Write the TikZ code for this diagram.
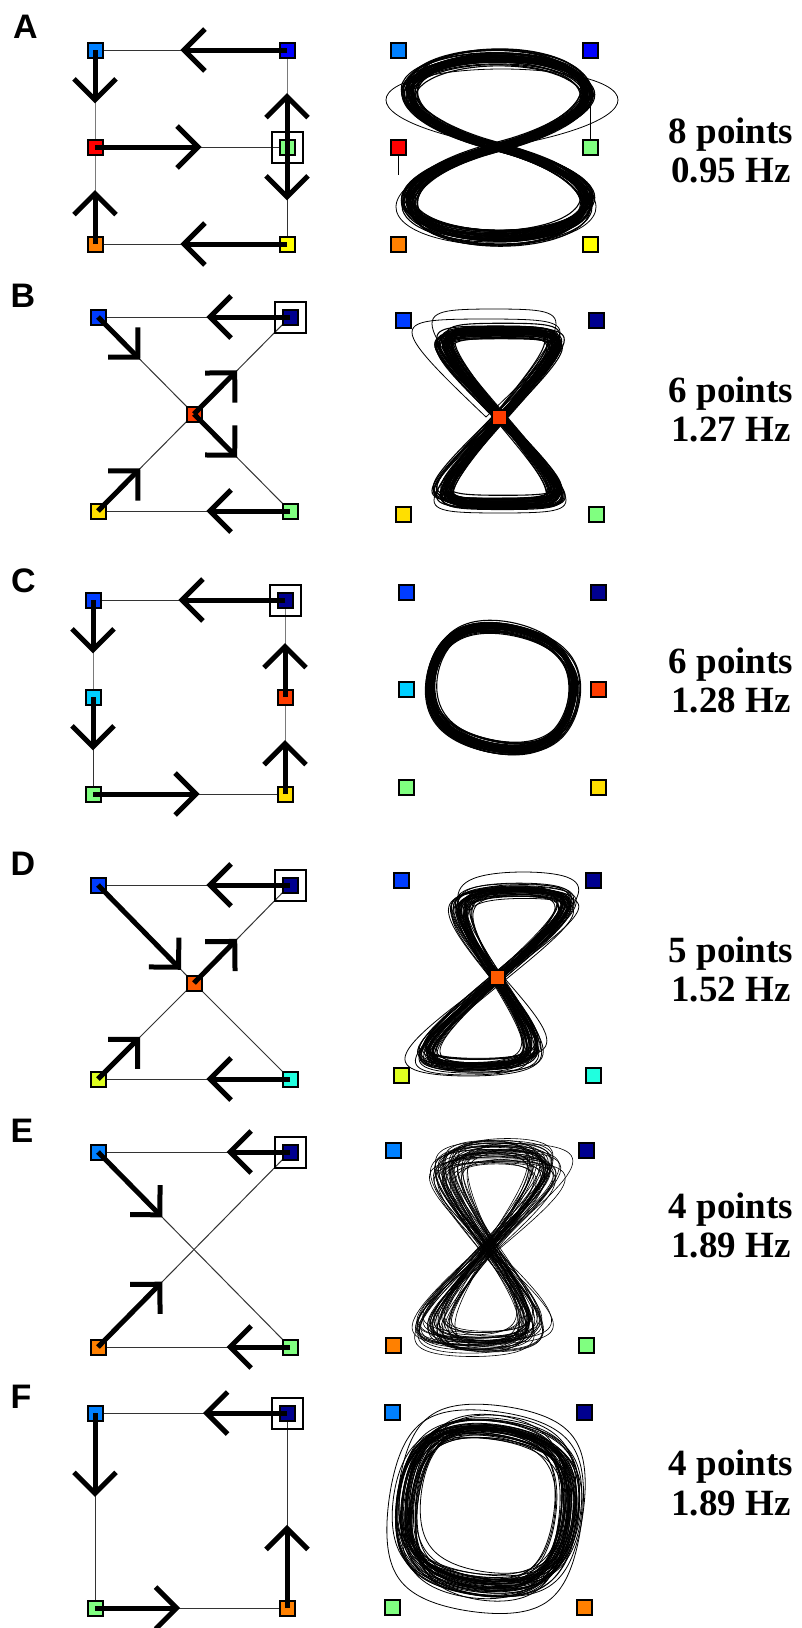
\documentclass[tikz,border=0pt]{standalone}
\usepackage{fontspec}
\newfontfamily\lblfont{Liberation Sans}
\newfontfamily\infofont{Liberation Serif}
\usetikzlibrary{arrows.meta,calc}
\pgfdeclarelayer{bg}
\pgfsetlayers{bg,main}

\definecolor{cAzure}{RGB}{0,128,255}
\definecolor{cBlue}{RGB}{0,0,255}
\definecolor{cBlueB}{RGB}{0,60,255}
\definecolor{cNavy}{RGB}{0,0,143}
\definecolor{cRed}{RGB}{255,0,0}
\definecolor{cRedOr}{RGB}{255,60,0}
\definecolor{cOrD}{RGB}{255,90,0}
\definecolor{cLGreen}{RGB}{128,255,128}
\definecolor{cOrange}{RGB}{255,128,0}
\definecolor{cYellow}{RGB}{255,255,0}
\definecolor{cGold}{RGB}{255,223,0}
\definecolor{cCyan}{RGB}{0,207,255}
\definecolor{cYG}{RGB}{223,255,32}
\definecolor{cCyD}{RGB}{32,255,223}

\tikzset{
  sq/.style={draw=black, line width=2pt, minimum size=15pt, inner sep=0pt, fill=#1},
  startbox/.style={draw=black, line width=2pt, minimum size=31pt, inner sep=0pt},
  lnk/.style={draw=black!80, line width=1pt},
  flowarrow/.style={line width=5pt, -{Straight Barb[length=21pt, width=42pt, line width=5pt]}},
  traj/.style={line width=0.8pt},
  trajbold/.style={line width=1.1pt},
  panel/.style={font=\lblfont\bfseries\fontsize{34}{34}\selectfont, anchor=base west, inner sep=0pt},
  info/.style={font=\infofont\bfseries\fontsize{37}{37}\selectfont, anchor=base, inner sep=0pt},
}

% figure-eight bundle with shear: cx cy a b k shear shearspread spreadAB spreadXY ; count via \trN
\newcommand\trN{40}
\newcommand\eightloop[9]{%
  \foreach \i in {1,...,\trN}{%
    \pgfmathsetmacro\trA{#3+#8*rand}%
    \pgfmathsetmacro\trB{(#4+0.7*#8*rand)/(1-#5)}%
    \pgfmathsetmacro\trX{#1+#9*rand}%
    \pgfmathsetmacro\trY{#2+0.7*#9*rand}%
    \pgfmathsetmacro\trS{#6+#7*rand}%
    \draw[traj] plot[domain=0:360,samples=61,smooth,variable=\t]
      ({\trX+\trA*sin(2*\t)+\trS*\trB*(sin(\t)+#5*sin(3*\t))},
       {\trY-\trB*(sin(\t)+#5*sin(3*\t))});
  }}
% figure-eight with round lobes: cx cy a b c spreadAB spreadXY
\newcommand\flateight[7]{%
  \foreach \i in {1,...,\trN}{%
    \pgfmathsetmacro\trA{#3+#6*rand}%
    \pgfmathsetmacro\trB{#4+#6*rand}%
    \pgfmathsetmacro\trX{#1+#7*rand}%
    \pgfmathsetmacro\trY{#2+#7*rand}%
    \draw[traj] plot[domain=0:360,samples=61,smooth,variable=\t]
      ({\trX+\trA*sin(2*\t)},
       {\trY-\trB*(#5*sin(\t)+(1-#5)*sin(\t)*abs(sin(\t)))});
  }}
% rounded loop bundle: cx cy a b c spreadAB spreadXY
\newcommand\roundloop[7]{%
  \foreach \i in {1,...,\trN}{%
    \pgfmathsetmacro\trA{#3+#6*rand}%
    \pgfmathsetmacro\trB{#4+#6*rand}%
    \pgfmathsetmacro\trX{#1+#7*rand}%
    \pgfmathsetmacro\trY{#2+#7*rand}%
    \draw[traj] plot[domain=0:360,samples=61,smooth,variable=\t]
      ({\trX+\trA*(cos(\t)-#5*cos(3*\t))},
       {\trY+\trB*(sin(\t)+#5*sin(3*\t))});
  }}

\begin{document}
\begin{tikzpicture}[x=1pt,y=-1pt]
\begin{pgfonlayer}{bg}
\fill[white] (0,0) rectangle (801,1628);
\end{pgfonlayer}
\useasboundingbox (0,0) rectangle (801,1628);
\pgfmathsetseed{4242}

% ================= A =================
\node[panel] (aL) at (13,38) {A};
\node[sq=cAzure]  (aTL) at (95,50) {};
\node[sq=cBlue]   (aTR) at (287,50) {};
\node[sq=cRed]    (aML) at (95,147) {};
\node[sq=cLGreen] (aMR) at (287,147) {};
\node[sq=cOrange] (aBL) at (95,244) {};
\node[sq=cYellow] (aBR) at (287,244) {};
\node[startbox] (aS) at (aMR) {};
\begin{pgfonlayer}{bg}
\draw[lnk] (aTL.center) -- (aTR.center);
\draw[lnk] (aTL.center) -- (aML.center) -- (aBL.center);
\draw[lnk] (aTR.center) -- (aMR.center) -- (aBR.center);
\draw[lnk] (aML.center) -- (aMR.center);
\draw[lnk] (aBL.center) -- (aBR.center);
\end{pgfonlayer}
\draw[flowarrow] (aTR.center) -- ($(aTR)!0.555!(aTL)$);
\draw[flowarrow] (aTL.center) -- ($(aTL)!0.55!(aML)$);
\draw[flowarrow] (aML.center) -- ($(aML)!0.555!(aMR)$);
\draw[flowarrow] (aMR.center) -- ($(aMR)!0.555!(aTR)$);
\draw[flowarrow] (aMR.center) -- ($(aMR)!0.55!(aBR)$);
\draw[flowarrow] (aBL.center) -- ($(aBL)!0.555!(aML)$);
\draw[flowarrow] (aBR.center) -- ($(aBR)!0.555!(aBL)$);

\renewcommand\trN{45}
\begin{scope}[traj/.style=trajbold]
\flateight{498}{147}{89}{90}{0.5}{5.5}{4.5}
\end{scope}
\draw[traj] plot[domain=0:180,samples=61,smooth,variable=\t]
  ({502+116*sin(2*\t)},{147-78*(0.5*sin(\t)+0.5*sin(\t)*abs(sin(\t)))});
\draw[traj] plot[domain=180:360,samples=61,smooth,variable=\t]
  ({496+100*sin(2*\t)},{149-96*(0.5*sin(\t)+0.5*sin(\t)*abs(sin(\t)))});
\node[sq=cAzure]  (raTL) at (398,50) {};
\node[sq=cBlue]   (raTR) at (590,50) {};
\node[sq=cRed]    (raML) at (398,147) {};
\node[sq=cLGreen] (raMR) at (590,147) {};
\node[sq=cOrange] (raBL) at (398,244) {};
\node[sq=cYellow] (raBR) at (590,244) {};
\coordinate (aStubU) at (590,90);
\coordinate (aStubD) at (398,175);
\begin{pgfonlayer}{bg}
\draw[traj] (raMR.center) -- (aStubU);
\draw[traj] (raML.center) -- (aStubD);
\end{pgfonlayer}
\node[info] (aT1) at (731,143) {8 points};
\node[info] (aT2) at (731,182) {0.95 Hz};

% ================= B =================
\node[panel] (bL) at (10.5,307) {B};
\node[sq=cBlueB]  (bTL) at (98,317) {};
\node[sq=cNavy]   (bTR) at (290,317) {};
\node[sq=cRedOr]  (bC)  at (194,414) {};
\node[sq=cGold]   (bBL) at (98,511) {};
\node[sq=cLGreen] (bBR) at (290,511) {};
\node[startbox] (bS) at (bTR) {};
\begin{pgfonlayer}{bg}
\draw[lnk] (bTL.center) -- (bTR.center);
\draw[lnk] (bBL.center) -- (bBR.center);
\draw[lnk] (bTL.center) -- (bC.center) -- (bBR.center);
\draw[lnk] (bBL.center) -- (bC.center) -- (bTR.center);
\end{pgfonlayer}
\draw[flowarrow] (bTR.center) -- ($(bTR)!0.435!(bTL)$);
\draw[flowarrow] (bTL.center) -- ($(bTL)!0.44!(bC)$);
\draw[flowarrow] (bC.center) -- ($(bC)!0.45!(bTR)$);
\draw[flowarrow] (bC.center) -- ($(bC)!0.45!(bBR)$);
\draw[flowarrow] (bBL.center) -- ($(bBL)!0.44!(bC)$);
\draw[flowarrow] (bBR.center) -- ($(bBR)!0.435!(bBL)$);

\renewcommand\trN{45}
\begin{scope}[traj/.style=trajbold]
\eightloop{500}{417}{56}{86}{0.1}{0}{0.03}{6.5}{5.5}
\end{scope}
\draw[traj] plot[domain=0:180,samples=61,smooth,variable=\t]
  ({486+74*sin(2*\t)},{417-98*(sin(\t)+0.1*sin(3*\t))/0.9});
\draw[traj] plot[domain=0:180,samples=61,smooth,variable=\t]
  ({494+62*sin(2*\t)},{417-108*(sin(\t)+0.1*sin(3*\t))/0.9});
\draw[traj] plot[domain=180:360,samples=61,smooth,variable=\t]
  ({500+66*sin(2*\t)},{419-94*(sin(\t)+0.1*sin(3*\t))/0.9});
\node[sq=cBlueB]  (rbTL) at (403,320) {};
\node[sq=cNavy]   (rbTR) at (596,320) {};
\node[sq=cRedOr]  (rbC)  at (499,417) {};
\node[sq=cGold]   (rbBL) at (403,514) {};
\node[sq=cLGreen] (rbBR) at (596,514) {};
\node[info] (bT1) at (731,402) {6 points};
\node[info] (bT2) at (731,441) {1.27 Hz};

% ================= C =================
\node[panel] (cL) at (11,592) {C};
\node[sq=cBlueB]  (cTL) at (93,600) {};
\node[sq=cNavy]   (cTR) at (285,600) {};
\node[sq=cCyan]   (cML) at (93,697) {};
\node[sq=cRedOr]  (cMR) at (285,697) {};
\node[sq=cLGreen] (cBL) at (93,794) {};
\node[sq=cGold]   (cBR) at (285,794) {};
\node[startbox] (cS) at (cTR) {};
\begin{pgfonlayer}{bg}
\draw[lnk] (cTL.center) -- (cTR.center);
\draw[lnk] (cTL.center) -- (cML.center) -- (cBL.center);
\draw[lnk] (cTR.center) -- (cMR.center) -- (cBR.center);
\draw[lnk] (cBL.center) -- (cBR.center);
\end{pgfonlayer}
\draw[flowarrow] (cTR.center) -- ($(cTR)!0.555!(cTL)$);
\draw[flowarrow] (cTL.center) -- ($(cTL)!0.55!(cML)$);
\draw[flowarrow] (cML.center) -- ($(cML)!0.55!(cBL)$);
\draw[flowarrow] (cBL.center) -- ($(cBL)!0.555!(cBR)$);
\draw[flowarrow] (cBR.center) -- ($(cBR)!0.555!(cMR)$);
\draw[flowarrow] (cMR.center) -- ($(cMR)!0.555!(cTR)$);

\renewcommand\trN{40}
\begin{scope}[rotate around={-12:(502,688)}, traj/.style=trajbold]
\roundloop{502}{688}{74}{61}{0.025}{4.5}{3}
\end{scope}
\node[sq=cBlueB]  (rcTL) at (406,592) {};
\node[sq=cNavy]   (rcTR) at (598,592) {};
\node[sq=cCyan]   (rcML) at (406,689) {};
\node[sq=cRedOr]  (rcMR) at (598,689) {};
\node[sq=cLGreen] (rcBL) at (406,787) {};
\node[sq=cGold]   (rcBR) at (598,787) {};
\node[info] (cT1) at (731,673) {6 points};
\node[info] (cT2) at (731,712) {1.28 Hz};

% ================= D =================
\node[panel] (dL) at (10.5,875) {D};
\node[sq=cBlueB]  (dTL) at (98,885) {};
\node[sq=cNavy]   (dTR) at (290,885) {};
\node[sq=cOrD]    (dC)  at (194,983) {};
\node[sq=cYG]     (dBL) at (98,1079) {};
\node[sq=cCyD]    (dBR) at (290,1079) {};
\node[startbox] (dS) at (dTR) {};
\begin{pgfonlayer}{bg}
\draw[lnk] (dTL.center) -- (dTR.center);
\draw[lnk] (dBL.center) -- (dBR.center);
\draw[lnk] (dTL.center) -- (dC.center) -- (dBR.center);
\draw[lnk] (dBL.center) -- (dC.center) -- (dTR.center);
\end{pgfonlayer}
\draw[flowarrow] (dTR.center) -- ($(dTR)!0.435!(dTL)$);
\draw[flowarrow] (dTL.center) -- ($(dTL)!0.865!(dC)$);
\draw[flowarrow] (dC.center) -- ($(dC)!0.45!(dTR)$);
\draw[flowarrow] (dBL.center) -- ($(dBL)!0.44!(dC)$);
\draw[flowarrow] (dBR.center) -- ($(dBR)!0.435!(dBL)$);

\renewcommand\trN{45}
\eightloop{497}{978}{53}{88}{0.07}{0.24}{0.05}{7.5}{6}
\draw[traj] plot[domain=0:180,samples=61,smooth,variable=\t]
  ({498+60*sin(2*\t)+0.24*106*(sin(\t)+0.06*sin(3*\t))/0.94},{978-106*(sin(\t)+0.06*sin(3*\t))/0.94});
\draw[traj] plot[domain=180:360,samples=61,smooth,variable=\t]
  ({492+68*sin(2*\t)+0.24*98*(sin(\t)+0.06*sin(3*\t))/0.94},{978-98*(sin(\t)+0.06*sin(3*\t))/0.94});
\node[sq=cBlueB]  (rdTL) at (401,880) {};
\node[sq=cNavy]   (rdTR) at (593,880) {};
\node[sq=cOrD]    (rdC)  at (497,977) {};
\node[sq=cYG]     (rdBL) at (401,1075) {};
\node[sq=cCyD]    (rdBR) at (593,1075) {};
\node[info] (dT1) at (731,962) {5 points};
\node[info] (dT2) at (731,1001) {1.52 Hz};

% ================= E =================
\node[panel] (eL) at (10.5,1142) {E};
\node[sq=cAzure]  (eTL) at (98,1152) {};
\node[sq=cNavy]   (eTR) at (290,1152) {};
\node[sq=cOrange] (eBL) at (98,1347) {};
\node[sq=cLGreen] (eBR) at (290,1347) {};
\node[startbox] (eS) at (eTR) {};
\begin{pgfonlayer}{bg}
\draw[lnk] (eTL.center) -- (eTR.center);
\draw[lnk] (eBL.center) -- (eBR.center);
\draw[lnk] (eTL.center) -- (eBR.center);
\draw[lnk] (eBL.center) -- (eTR.center);
\end{pgfonlayer}
\draw[flowarrow] (eTR.center) -- ($(eTR)!0.33!(eTL)$);
\draw[flowarrow] (eTL.center) -- ($(eTL)!0.335!(eBR)$);
\draw[flowarrow] (eBL.center) -- ($(eBL)!0.335!(eTR)$);
\draw[flowarrow] (eBR.center) -- ($(eBR)!0.33!(eBL)$);

\renewcommand\trN{45}
\begin{scope}[traj/.style={line width=0.6pt}]
\eightloop{489}{1247}{50}{97}{0.06}{0.1}{0.12}{12}{9}
\end{scope}
\node[sq=cAzure]  (reTL) at (393,1150) {};
\node[sq=cNavy]   (reTR) at (586,1150) {};
\node[sq=cOrange] (reBL) at (393,1345) {};
\node[sq=cLGreen] (reBR) at (586,1345) {};
\node[info] (eT1) at (731,1218) {4 points};
\node[info] (eT2) at (731,1257) {1.89 Hz};

% ================= F =================
\node[panel] (fL) at (10.5,1408) {F};
\node[sq=cAzure]  (fTL) at (95,1413) {};
\node[sq=cNavy]   (fTR) at (287,1413) {};
\node[sq=cLGreen] (fBL) at (95,1608) {};
\node[sq=cOrange] (fBR) at (287,1608) {};
\node[startbox] (fS) at (fTR) {};
\begin{pgfonlayer}{bg}
\draw[lnk] (fTL.center) -- (fTR.center);
\draw[lnk] (fTL.center) -- (fBL.center);
\draw[lnk] (fTR.center) -- (fBR.center);
\draw[lnk] (fBL.center) -- (fBR.center);
\end{pgfonlayer}
\draw[flowarrow] (fTR.center) -- ($(fTR)!0.4375!(fTL)$);
\draw[flowarrow] (fTL.center) -- ($(fTL)!0.43!(fBL)$);
\draw[flowarrow] (fBL.center) -- ($(fBL)!0.443!(fBR)$);
\draw[flowarrow] (fBR.center) -- ($(fBR)!0.426!(fTR)$);

\renewcommand\trN{50}
\begin{scope}[rotate around={-8:(488,1506)}]
\roundloop{488}{1506}{84}{82}{0.04}{10}{7}
\draw[traj] plot[domain=0:360,samples=61,smooth,variable=\t]
  ({486+102*(cos(\t)-0.05*cos(3*\t))},{1512+106*(sin(\t)+0.05*sin(3*\t))});
\draw[traj] plot[domain=0:360,samples=61,smooth,variable=\t]
  ({490+98*(cos(\t)-0.05*cos(3*\t))},{1500+100*(sin(\t)+0.05*sin(3*\t))});
\end{scope}
\node[sq=cAzure]  (rfTL) at (392,1412) {};
\node[sq=cNavy]   (rfTR) at (584,1412) {};
\node[sq=cLGreen] (rfBL) at (392,1607) {};
\node[sq=cOrange] (rfBR) at (584,1607) {};
\node[info] (fT1) at (731,1475) {4 points};
\node[info] (fT2) at (731,1515) {1.89 Hz};
\end{tikzpicture}
\end{document}
